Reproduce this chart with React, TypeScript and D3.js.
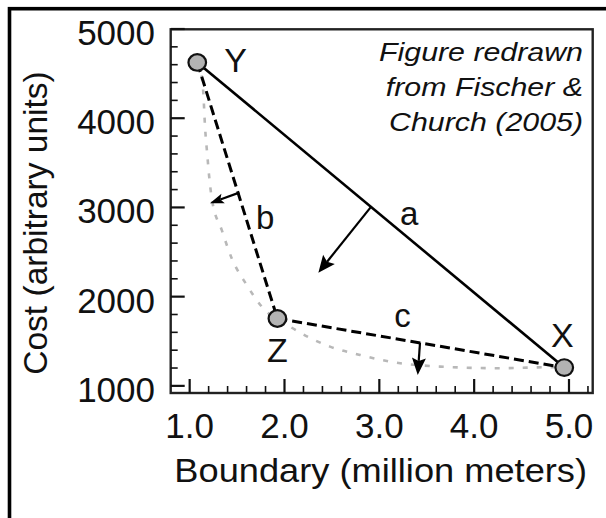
import React from 'react';
import * as d3 from 'd3';

// Named points (boundary in million meters, cost in arbitrary units)
const pointNames = ['Y', 'Z', 'X'];
const pointBoundary = [1.08, 1.925, 4.95];
const pointCost = [4625, 1755, 1205];

// Gray dotted frontier curve
const frontierBoundary = [1.08, 1.127, 1.144, 1.162, 1.186, 1.204, 1.236, 1.338, 1.443, 1.601, 1.76, 2.058, 2.48, 2.796, 3.112, 3.64, 4.272, 4.831, 4.95];
const frontierCost = [4625, 4462, 4280, 3905, 3588, 3364, 3084, 2748, 2431, 2132, 1888, 1664, 1440, 1347, 1272, 1216, 1198, 1210, 1205];

// Segments between points
const segmentNames = ['a', 'b', 'c'];
const segmentFrom = ['Y', 'Y', 'Z'];
const segmentTo = ['X', 'Z', 'X'];
const segmentDashed = [false, true, true];

// Improvement arrows (tail -> head), data units
const arrowTailBoundary = [2.912, 1.523, 3.429];
const arrowTailCost = [3006, 3166, 1485];
const arrowHeadBoundary = [2.357, 1.214, 3.405];
const arrowHeadCost = [2269, 3047, 1123];

const xTickValues = [1, 2, 3, 4, 5];
const xTickLabels = ['1.0', '2.0', '3.0', '4.0', '5.0'];
const yTickValues = [1000, 2000, 3000, 4000, 5000];
const yTickLabels = ['1000', '2000', '3000', '4000', '5000'];

const noteLines = ['Figure redrawn', 'from Fischer &', 'Church (2005)'];
const xTitle = 'Boundary (million meters)';
const yTitle = 'Cost (arbitrary units)';

const FONT = "'Liberation Sans', Arial, Helvetica, sans-serif";

export default function App() {
  const W = 606, H = 518;
  const left = 170.7, right = 592.7, top = 29.3, bottom = 393;
  const x = d3.scaleLinear().domain([0.8, 5.25]).range([left, right]);
  const y = d3.scaleLinear().domain([920, 5000]).range([bottom, 29]);

  const minorX = d3.range(1.0, 5.21, 0.2).map(v => Math.round(v * 10) / 10).filter(v => !xTickValues.some(t => Math.abs(t - v) < 1e-6));
  const minorY = d3.range(1000, 4801, 200).filter(v => !yTickValues.includes(v));

  const pts: Record<string, [number, number]> = {};
  pointNames.forEach((n, i) => { pts[n] = [x(pointBoundary[i]), y(pointCost[i])]; });

  const frontier = frontierBoundary.map((b, i) => [x(b), y(frontierCost[i])] as [number, number]);
  const curve = d3.line().curve(d3.curveMonotoneX)(frontier) || '';

  const arrowSizes = [[17, 7.5], [14, 5], [17, 7]];

  // label offsets (pixels) relative to anchors
  const pointLabelOffsets: Record<string, [number, number, string]> = {
    Y: [27, 10, 'start'],
    Z: [0, 43, 'middle'],
    X: [-2, -21, 'middle'],
  };
  const segLabelT = [0.55, 0.62, 0.4];
  const segLabelOffsets: [number, number][] = [[1, -5], [9, 8], [2, -11]];

  const stext = (key: string, tx: number, ty: number, s: string, size: number, anchor: string, sx = 1, extra: any = {}) => (
    <text key={key} transform={`translate(${tx},${ty}) scale(${sx},1)`} fontSize={size} textAnchor={anchor} fontFamily={FONT} fill="#111" {...extra}>{s}</text>
  );

  return (
    <svg width={W} height={H} style={{ position: 'absolute', left: 0, top: 0, background: '#fff' }}>
      <rect x={0} y={0} width={W} height={H} fill="#fff" />
      {/* outer frame */}
      <rect x={9.5} y={8.7} width={700} height={700} fill="none" stroke="#000" strokeWidth={3.6} />

      {/* plot frame */}
      <rect x={left} y={top} width={right - left} height={bottom - top} fill="none" stroke="#222" strokeWidth={2.4} />

      {/* ticks */}
      {xTickValues.map(v => <line key={'xm' + v} x1={x(v)} x2={x(v)} y1={bottom} y2={bottom - 14} stroke="#111" strokeWidth={2.2} />)}
      {minorX.map(v => <line key={'xn' + v} x1={x(v)} x2={x(v)} y1={bottom} y2={bottom - 7} stroke="#111" strokeWidth={1.6} />)}
      {yTickValues.map(v => <line key={'ym' + v} x1={left} x2={left + 14} y1={y(v)} y2={y(v)} stroke="#111" strokeWidth={2.2} />)}
      {minorY.map(v => <line key={'yn' + v} x1={left} x2={left + 7} y1={y(v)} y2={y(v)} stroke="#111" strokeWidth={1.6} />)}

      {/* tick labels */}
      {xTickValues.map((v, i) => stext('xl' + v, x(v), 438.3, xTickLabels[i], 35, 'middle'))}
      {yTickValues.map((v, i) => stext('yl' + v, 155, y(v) + 16, yTickLabels[i], 35, 'end'))}

      {/* axis titles */}
      {stext('xt', (left + right) / 2 - 1, 481.7, xTitle, 32.5, 'middle', 1.115)}
      <text transform={`translate(46.7,223) rotate(-90)`} fontSize={33.5} textAnchor="middle" fontFamily={FONT} fill="#111">{yTitle}</text>

      {/* note */}
      {noteLines.map((s, i) => stext('n' + i, 583, 60.7 + i * 35.2, s, 25.5, 'end', 1.19, { fontStyle: 'italic' }))}

      {/* frontier */}
      <path d={curve} fill="none" stroke="#b8b8b8" strokeWidth={2.6} strokeDasharray="5,9" />

      {/* segments */}
      {segmentNames.map((n, i) => {
        const a = pts[segmentFrom[i]], b = pts[segmentTo[i]];
        return <line key={'s' + n} x1={a[0]} y1={a[1]} x2={b[0]} y2={b[1]} stroke="#000" strokeWidth={segmentDashed[i] ? 3 : 2.6} strokeDasharray={segmentDashed[i] ? '10,5' : undefined} />;
      })}

      {/* arrows */}
      {segmentNames.map((n, i) => {
        const tx = x(arrowTailBoundary[i]), ty = y(arrowTailCost[i]);
        const hx = x(arrowHeadBoundary[i]), hy = y(arrowHeadCost[i]);
        const dx = hx - tx, dy = hy - ty, len = Math.hypot(dx, dy);
        const ux = dx / len, uy = dy / len;
        const [L, Wd] = arrowSizes[i];
        const bx = hx - ux * L, by = hy - uy * L;
        const p1 = [bx - uy * Wd, by + ux * Wd], p2 = [bx + uy * Wd, by - ux * Wd];
        return (
          <g key={'ar' + n}>
            <line x1={tx} y1={ty} x2={bx + ux * 3} y2={by + uy * 3} stroke="#000" strokeWidth={2.2} />
            <polygon points={`${hx},${hy} ${p1[0]},${p1[1]} ${bx + ux * 3},${by + uy * 3} ${p2[0]},${p2[1]}`} fill="#000" />
          </g>
        );
      })}

      {/* segment labels */}
      {segmentNames.map((n, i) => {
        const a = pts[segmentFrom[i]], b = pts[segmentTo[i]];
        const t = segLabelT[i];
        const lx = a[0] + (b[0] - a[0]) * t + segLabelOffsets[i][0];
        const ly = a[1] + (b[1] - a[1]) * t + segLabelOffsets[i][1];
        return stext('sl' + n, lx, ly, n, 33, 'start');
      })}

      {/* points */}
      {pointNames.map(n => (
        <ellipse key={'p' + n} cx={pts[n][0]} cy={pts[n][1]} rx={8.8} ry={8.3} fill="#b3b3b3" stroke="#111" strokeWidth={2.2} />
      ))}
      {pointNames.map(n => {
        const [dx, dy, anc] = pointLabelOffsets[n];
        return stext('pl' + n, pts[n][0] + dx, pts[n][1] + dy, n, 34, anc);
      })}
    </svg>
  );
}
